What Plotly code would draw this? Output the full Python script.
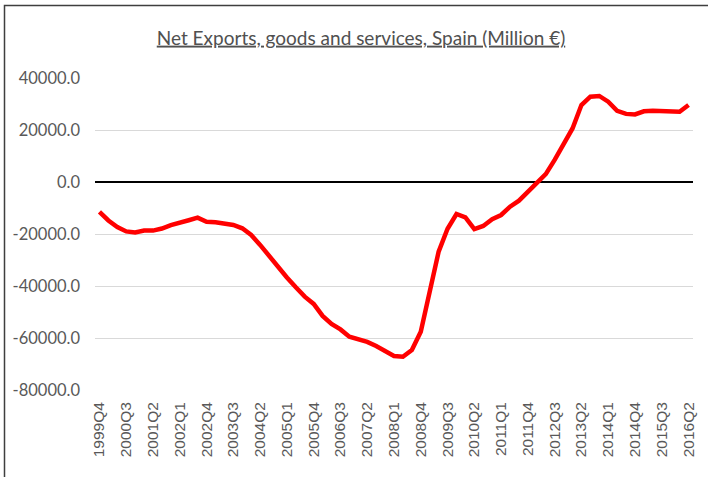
import plotly.graph_objects as go

# ---- data ----
years_quarters_start = (1999, 4)
n_quarters = 67
quarters = []
y, q = years_quarters_start
for _ in range(n_quarters):
    quarters.append(f"{y}Q{q}")
    q += 1
    if q > 4:
        q = 1
        y += 1

net_exports = [
    -11500, -14800, -17300, -19000, -19400, -18700, -18700, -17900, -16600, -15800,
    -14700, -13700, -15300, -15500, -15900, -16500, -17800, -20400, -24200, -28500,
    -32600, -36700, -40500, -44100, -46900, -51500, -54600, -56700, -59500, -60500,
    -61500, -63100, -65100, -66900, -67200, -64600, -57600, -43000, -26800, -18000,
    -12300, -13600, -18100, -16900, -14300, -12700, -9500, -7200, -3700, -300,
    3000, 8500, 14200, 20600, 29600, 32800, 33100, 30900, 27400, 26200,
    26000, 27200, 27400, 27200, 27100, 27000, 29600,
]

y_tick_values = [-80000, -60000, -40000, -20000, 0, 20000, 40000]
y_tick_labels = ["-80000.0", "-60000.0", "-40000.0", "-20000.0", "0.0", "20000.0", "40000.0"]
x_tick_labels = quarters[::3]

title_text = "Net Exports, goods and services, Spain (Million €)"

fig = go.Figure()
fig.add_trace(go.Scatter(
    x=quarters, y=net_exports, mode="lines",
    line=dict(color="#FF0000", width=4.5),
    showlegend=False, hoverinfo="skip",
))

fig.update_layout(
    width=708, height=477,
    margin=dict(l=95, r=15, t=78, b=87),
    paper_bgcolor="white", plot_bgcolor="white",
    title=dict(
        text=f"<u>{title_text}</u>",
        x=(361) / 708, xanchor="center",
        y=1 - 38 / 477, yanchor="middle",
        font=dict(family="Lato, Open Sans, sans-serif", size=19, color="#505050"),
    ),
    xaxis=dict(
        type="category",
        range=[-0.5, n_quarters - 0.5],
        tickmode="array", tickvals=x_tick_labels, ticktext=x_tick_labels,
        tickangle=-90,
        tickfont=dict(family="Liberation Sans, Arial, sans-serif", size=15.5, color="#595959"),
        showgrid=False, showline=False, zeroline=False,
        ticks="", ticklabelstandoff=8,
    ),
    yaxis=dict(
        range=[-80000, 40000],
        tickmode="array", tickvals=y_tick_values, ticktext=y_tick_labels,
        tickfont=dict(family="Lato, Open Sans, sans-serif", size=16.5, color="#595959"),
        showgrid=True, gridcolor="#D9D9D9", gridwidth=1,
        zeroline=True, zerolinecolor="#000000", zerolinewidth=2,
        showline=False, ticks="", ticklabelstandoff=14,
    ),
    shapes=[dict(
        type="rect", xref="paper", yref="paper",
        x0=(4.5 - 95) / 598, x1=(720 - 95) / 598,
        y0=(390 - 490) / 312, y1=(390 - 5.5) / 312,
        line=dict(color="#3F3F3F", width=1.5), fillcolor="rgba(0,0,0,0)",
        layer="below",
    )],
)

fig.write_html("out.html")
